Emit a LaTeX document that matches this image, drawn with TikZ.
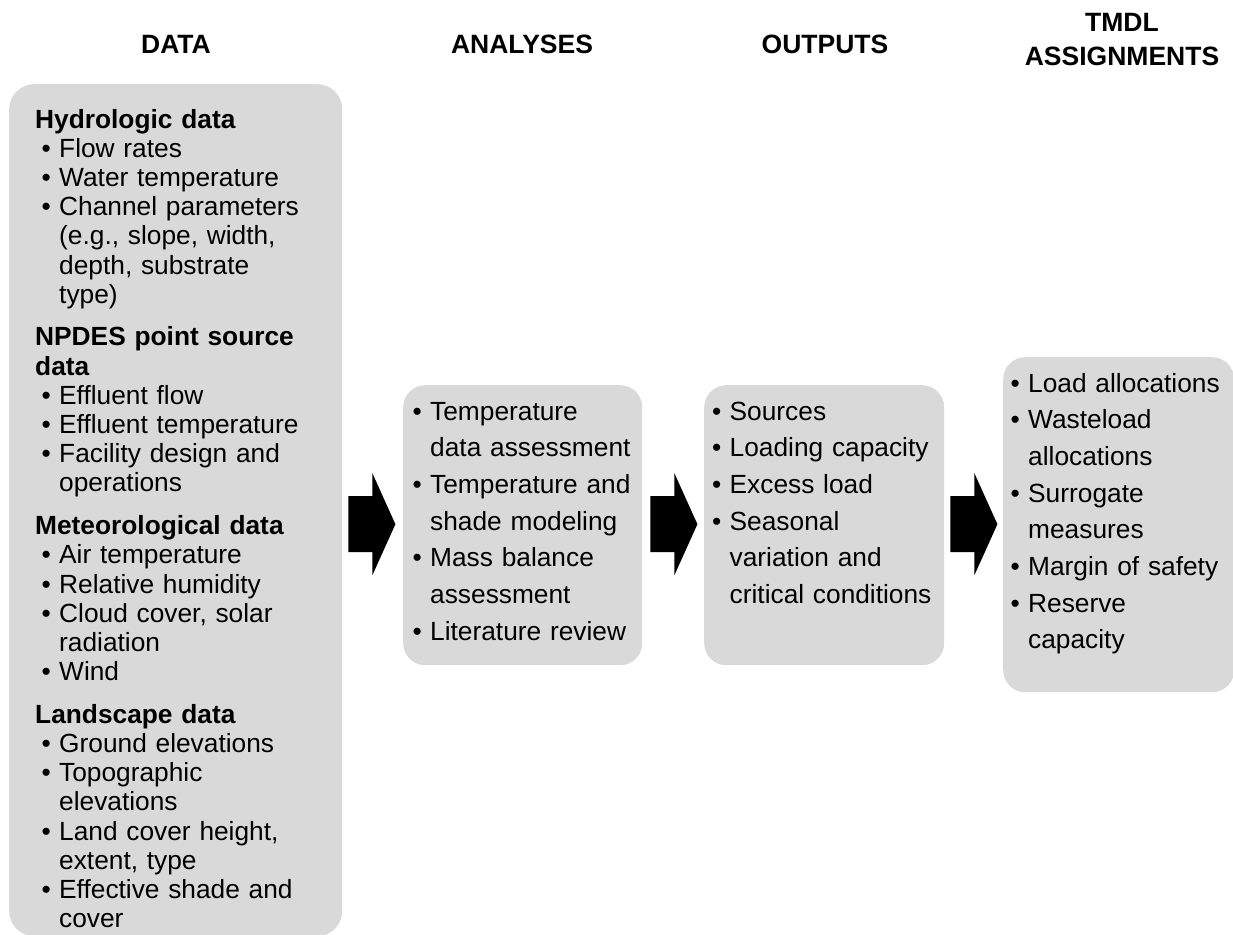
\documentclass[tikz,border=0pt]{standalone}
\usepackage{fontspec}
\setmainfont{Liberation Sans}
\usetikzlibrary{positioning, calc}

\definecolor{boxgray}{RGB}{217,217,217}
\newcommand{\bul}{\makebox[17.5pt][l]{•}}
\newcommand{\dbul}{\hspace*{6.5pt}\bul}
\newcommand{\dind}{\hspace*{24pt}}
\newcommand{\ind}{\hspace*{17.5pt}}

\tikzset{
    box/.style={rectangle, rounded corners=22pt, fill=boxgray, draw=none, inner sep=0pt, anchor=north west},
    head/.style={font=\fontsize{26.5}{34}\selectfont\bfseries, text width=240pt, align=center, inner sep=0pt, anchor=base},
    datalist/.style={font=\fontsize{26.3}{29.2}\selectfont, text width=330pt, align=left, inner sep=0pt, anchor=base west},
    itemlist/.style={font=\fontsize{26.3}{36.7}\selectfont, text width=240pt, align=left, inner sep=0pt, anchor=base west},
    bigarrow/.style={fill=black, draw=none}
}

\begin{document}
\begin{tikzpicture}[x=1pt, y=-1pt]
    \useasboundingbox (0,0) rectangle (1233,934);

    % column heads
    \node[head] (hdata) at (176,53) {DATA};
    \node[head] (hanalyses) at (522,53) {ANALYSES};
    \node[head] (houtputs) at (825,53) {OUTPUTS};
    \node[head] (htmdl) at (1122,32) {TMDL\\ASSIGNMENTS};

    % boxes
    \node[box, rounded corners=25pt, minimum width=333pt, minimum height=852pt] (data) at (9,84) {};
    \node[box, minimum width=239pt, minimum height=280pt] (analyses) at (403,385) {};
    \node[box, minimum width=240pt, minimum height=280pt] (outputs) at (704,385) {};
    \node[box, minimum width=231pt, minimum height=335pt] (tmdl) at (1003,357) {};

    % box texts
    \node[datalist] (datatext) at (35,128) {%
        \textbf{Hydrologic data}\\
        \dbul Flow rates\\
        \dbul Water temperature\\
        \dbul Channel parameters\\
        \dind (e.g., slope, width,\\
        \dind depth, substrate\\
        \dind type)\\[13.5pt]
        \textbf{NPDES point source}\\
        \textbf{data}\\
        \dbul Effluent flow\\
        \dbul Effluent temperature\\
        \dbul Facility design and\\
        \dind operations\\[13.5pt]
        \textbf{Meteorological data}\\
        \dbul Air temperature\\
        \dbul Relative humidity\\
        \dbul Cloud cover, solar\\
        \dind radiation\\
        \dbul Wind\\[13.5pt]
        \textbf{Landscape data}\\
        \dbul Ground elevations\\
        \dbul Topographic\\
        \dind elevations\\
        \dbul Land cover height,\\
        \dind extent, type\\
        \dbul Effective shade and\\
        \dind cover};
    \node[itemlist] (analysestext) at (412.5,420) {%
        \bul Temperature\\
        \ind data assessment\\
        \bul Temperature and\\
        \ind shade modeling\\
        \bul Mass balance\\
        \ind assessment\\
        \bul Literature review};
    \node[itemlist] (outputstext) at (712,420) {%
        \bul Sources\\
        \bul Loading capacity\\
        \bul Excess load\\
        \bul Seasonal\\
        \ind variation and\\
        \ind critical conditions};
    \node[itemlist] (tmdltext) at (1010.5,392) {%
        \bul Load allocations\\
        \bul Wasteload\\
        \ind allocations\\
        \bul Surrogate\\
        \ind measures\\
        \bul Margin of safety\\
        \bul Reserve\\
        \ind capacity};

    % block arrows between the boxes
    \coordinate (a1) at ($(data.east |- analyses.west)+(6,-1)$);
    \coordinate (a2) at ($(analyses.east)+(8,-1)$);
    \coordinate (a3) at ($(outputs.east)+(6,-1)$);
    \foreach \a in {a1,a2,a3}
        \fill[bigarrow] (\a) +(0,-28) -- +(24,-28) -- +(24,-51) -- +(47,0)
            -- +(24,51) -- +(24,28) -- +(0,28) -- cycle;
\end{tikzpicture}
\end{document}
